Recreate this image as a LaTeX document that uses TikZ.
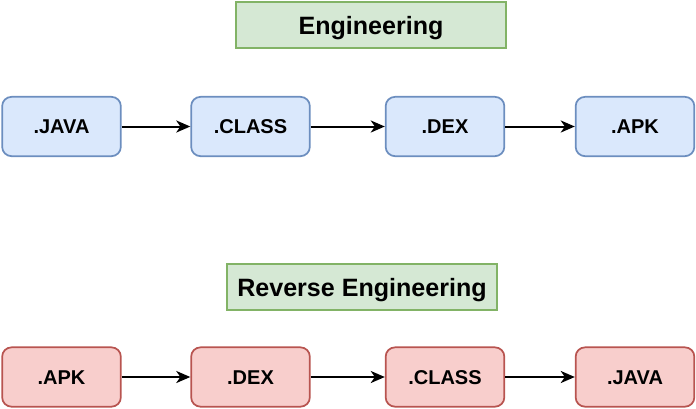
\documentclass[tikz,border=0pt]{standalone}
\usepackage{fontspec}
\setmainfont{Liberation Sans}
\usetikzlibrary{arrows.meta}
\definecolor{bfill}{HTML}{DAE8FC}
\definecolor{bdraw}{HTML}{6C8EBF}
\definecolor{rfill}{HTML}{F8CECC}
\definecolor{rdraw}{HTML}{B85450}
\definecolor{gfill}{HTML}{D5E8D4}
\definecolor{gdraw}{HTML}{82B366}
\tikzset{
  filebox/.style={rounded corners=7pt, minimum width=89pt, minimum height=44.5pt, line width=1.3pt, inner sep=0pt, text height=10.7pt, text depth=0pt, font=\fontsize{15pt}{18pt}\selectfont\bfseries},
  bluebox/.style={filebox, fill=bfill, draw=bdraw},
  redbox/.style={filebox, fill=rfill, draw=rdraw},
  titlebox/.style={fill=gfill, draw=gdraw, line width=1.3pt, minimum width=202pt, minimum height=35pt, inner sep=0pt, text height=13.5pt, text depth=0pt, font=\fontsize{18.8pt}{22pt}\selectfont\bfseries},
  flow/.style={line width=1.5pt, -{Stealth[length=10.5pt, width=9pt, inset=3pt]}}
}
\begin{document}
\begin{tikzpicture}[x=0.75pt, y=-0.75pt]
\useasboundingbox (0,0) rectangle (696,408);
\node[titlebox] (eng) at (371,25) {Engineering};
\node[bluebox] (j1) at (61.5,126.5) {.JAVA};
\node[bluebox] (c1) at (250.5,126.5) {.CLASS};
\node[bluebox] (d1) at (445,126.5) {.DEX};
\node[bluebox] (a1) at (635,126.5) {.APK};
\draw[flow] (j1) -- (c1);
\draw[flow] (c1) -- (d1);
\draw[flow] (d1) -- (a1);
\node[titlebox] (rev) at (362,287) {Reverse Engineering};
\node[redbox] (a2) at (61.5,377) {.APK};
\node[redbox] (d2) at (250.5,377) {.DEX};
\node[redbox] (c2) at (445,377) {.CLASS};
\node[redbox] (j2) at (635,377) {.JAVA};
\draw[flow] (a2) -- (d2);
\draw[flow] (d2) -- (c2);
\draw[flow] (c2) -- (j2);
\end{tikzpicture}
\end{document}
